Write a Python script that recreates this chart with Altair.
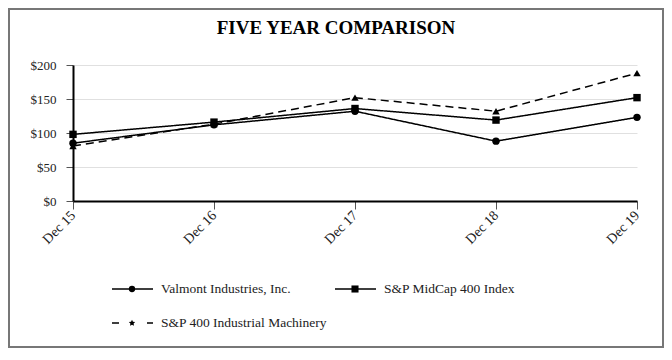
import altair as alt
import pandas as pd

years = ["Dec 15", "Dec 16", "Dec 17", "Dec 18", "Dec 19"]
series_names = ["Valmont Industries, Inc.", "S&P MidCap 400 Index", "S&P 400 Industrial Machinery"]
valmont = [85, 112, 132, 88, 123]
midcap = [98, 116, 136, 119, 152]
machinery = [81, 113, 152, 132, 188]
y_ticks = [0, 50, 100, 150, 200]
title_text = "FIVE YEAR COMPARISON"

rows = []
for name, vals in zip(series_names, [valmont, midcap, machinery]):
    for yr, v in zip(years, vals):
        rows.append({"year": yr, "series": name, "value": v})
df = pd.DataFrame(rows)

FONT = "Liberation Serif"
W, H = 564, 136
PL, PT, PR, PB = 65, 57, 27, 147

x_axis = alt.Axis(title=None, labelAngle=-45, labelAlign="right", labelBaseline="middle",
                  labelPadding=4, tickSize=8, tickColor="#555", domainColor="#000",
                  domainWidth=2, labelFont=FONT, labelFontSize=14, labelColor="#222",
                  labelOverlap=False, grid=False)
y_axis = alt.Axis(title=None, values=y_ticks, format="$.0f", tickSize=7, tickColor="#555",
                  domainColor="#000", domainWidth=2, labelFont=FONT, labelFontSize=13,
                  labelColor="#222", labelPadding=10, labelOverlap=False,
                  grid=True, gridColor="#e0e0e0")

dash_scale = alt.Scale(domain=series_names, range=[[1, 0], [1, 0], [8, 5]])
shape_scale = alt.Scale(domain=series_names, range=["circle", "square", "triangle-up"])

base = alt.Chart(df).encode(
    x=alt.X("year:N", sort=years, scale=alt.Scale(padding=0), axis=x_axis),
    y=alt.Y("value:Q", scale=alt.Scale(domain=[0, 200], nice=False), axis=y_axis),
)
lines = base.mark_line(color="black", strokeWidth=1.5).encode(
    strokeDash=alt.StrokeDash("series:N", scale=dash_scale, legend=None),
    detail="series:N",
)
points = base.mark_point(filled=True, color="black", opacity=1, size=55).encode(
    shape=alt.Shape("series:N", scale=shape_scale, legend=None),
)

one = alt.Data(values=[{"a": 1}])
title = alt.Chart(one).mark_text(font=FONT, fontSize=19, fontWeight="bold", color="black",
                                 align="center", baseline="middle").encode(
    x=alt.value(263), y=alt.value(-37), text=alt.value(title_text))

STAR = "M0,-1L0.29,-0.4L0.95,-0.31L0.48,0.15L0.59,0.81L0,0.5L-0.59,0.81L-0.48,0.15L-0.95,-0.31L-0.29,-0.4Z"

# legend
leg_items = [
    (series_names[0], "circle", [1, 0], 40, 224, 40),
    (series_names[1], "square", [1, 0], 263, 224, 50),
    (series_names[2], STAR, [7, 28], 40, 258, 45),
]
legend_layers = []
for name, shp, dash, lx, ly, sz in leg_items:
    legend_layers.append(alt.Chart(one).mark_rule(color="black", strokeWidth=1.5, strokeDash=dash).encode(
        x=alt.value(lx - 1), x2=alt.value(lx + 40), y=alt.value(ly)))
    legend_layers.append(alt.Chart(one).mark_point(filled=True, color="black", opacity=1,
                                                   shape=shp, size=sz).encode(
        x=alt.value(lx + 19), y=alt.value(ly)))
    legend_layers.append(alt.Chart(one).mark_text(font=FONT, fontSize=13.5, color="#222",
                                                  align="left", baseline="middle").encode(
        x=alt.value(lx + 48), y=alt.value(ly), text=alt.value(name)))

border = alt.Chart(one).mark_rect(fillOpacity=0, stroke="#777", strokeWidth=2).encode(
    x=alt.value(-64), x2=alt.value(590), y=alt.value(-56), y2=alt.value(282))

chart = alt.layer(lines, points, title, *legend_layers, border).properties(
    width=W, height=H,
    autosize=alt.AutoSizeParams(type="none"),
    padding={"left": PL, "top": PT, "right": PR, "bottom": PB},
).configure_view(strokeWidth=0).configure_axis(
    labelFont=FONT, labelColor="#222", labelOverlap=False
).configure_text(font=FONT)

chart.save("out.html", embed_options={"renderer": "svg", "actions": False})
